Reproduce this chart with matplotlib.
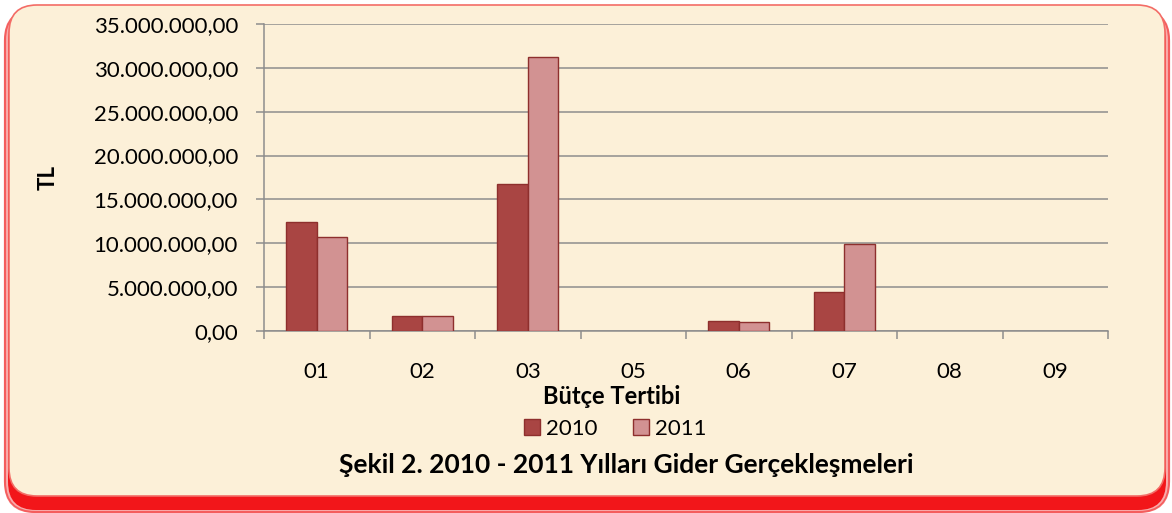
import numpy as np
import matplotlib
matplotlib.use("Agg")
import matplotlib.pyplot as plt
from matplotlib.patches import FancyBboxPatch, Patch
from matplotlib.ticker import FuncFormatter

categories = ["01", "02", "03", "05", "06", "07", "08", "09"]
gider_2010 = [12_400_000, 1_700_000, 16_800_000, 0, 1_150_000, 4_450_000, 0, 0]
gider_2011 = [10_700_000, 1_700_000, 31_250_000, 0, 1_000_000, 9_900_000, 0, 0]
series_labels = ["2010", "2011"]

C2010 = "#A94543"
C2011 = "#D29292"
EDGE = "#8E2F2D"
GRID = "#8C8C8C"
BG = "#FCF0D8"
FONT = ["Lato", "DejaVu Sans"]
PX = 0.72   # points per pixel at 100 dpi

plt.rcParams["font.family"] = FONT

W, H = 1172, 513
fig = plt.figure(figsize=(W / 100, H / 100), dpi=100)
fig.patch.set_facecolor("white")

# background frame drawn in pixel coordinates (y down)
bg = fig.add_axes([0, 0, 1, 1], zorder=-1)
bg.set_xlim(0, W)
bg.set_ylim(H, 0)
bg.axis("off")
for i, a in enumerate([0.12, 0.25, 0.5]):
    bg.add_patch(FancyBboxPatch((7 - i, 12 - i), 1160 + 2 * i, 498 + 2 * i,
                                boxstyle="round,pad=0,rounding_size=30",
                                facecolor="none", edgecolor="#F01010",
                                linewidth=(3 - i) * 1.5, alpha=a))
bg.add_patch(FancyBboxPatch((8, 12), 1158, 498,
                            boxstyle="round,pad=0,rounding_size=28",
                            facecolor="#F2161A", edgecolor="none"))
bg.add_patch(FancyBboxPatch((9, 5), 1156, 491,
                            boxstyle="round,pad=0,rounding_size=28",
                            facecolor=BG, edgecolor="#F36C66", linewidth=1.2))

ax = fig.add_axes([264 / W, 1 - 331 / H, (1108 - 264) / W, (331 - 24) / H],
                  zorder=2)
ax.set_facecolor("none")

x = np.arange(len(categories))
bw = 0.29
ax.bar(x - bw / 2, gider_2010, bw, color=C2010, edgecolor=EDGE,
       linewidth=[1.0 if v else 0 for v in gider_2010],
       label=series_labels[0], zorder=3)
ax.bar(x + bw / 2, gider_2011, bw, color=C2011, edgecolor=EDGE,
       linewidth=[1.0 if v else 0 for v in gider_2011],
       label=series_labels[1], zorder=3)

ax.set_xlim(-0.5, len(categories) - 0.5)
ax.set_ylim(0, 35_000_000)
ax.set_yticks(np.arange(0, 35_000_001, 5_000_000))


def tr_fmt(v, _):
    s = f"{v:,.2f}"
    return s.replace(",", "X").replace(".", ",").replace("X", ".")


ax.yaxis.set_major_formatter(FuncFormatter(tr_fmt))
ax.yaxis.grid(True, color=GRID, linewidth=1.5 * PX, zorder=1)
ax.set_axisbelow(True)

ax.set_xticks(x)
ax.set_xticklabels(categories)
ax.set_xticks(np.arange(-0.5, len(categories)), minor=True)
ax.tick_params(axis="x", which="major", length=0, pad=22, labelsize=16)
ax.tick_params(axis="x", which="minor", length=8 * PX, width=1.5 * PX,
               color=GRID, direction="out")
ax.tick_params(axis="y", length=8 * PX, width=1.5 * PX, color=GRID,
               labelsize=16, pad=13)

for side in ["top", "right"]:
    ax.spines[side].set_visible(False)
for side in ["left", "bottom"]:
    ax.spines[side].set_color(GRID)
    ax.spines[side].set_linewidth(1.5 * PX)

fig.text(48 / W, 1 - 178 / H, "TL", rotation=90, ha="center", va="center",
         fontsize=16, fontweight="bold")
fig.text(612 / W, 1 - 396 / H, "Bütçe Tertibi", ha="center", va="center",
         fontsize=17, fontweight="bold")

handles = [Patch(facecolor=C2010, edgecolor=EDGE, label=series_labels[0]),
           Patch(facecolor=C2011, edgecolor=EDGE, label=series_labels[1])]
fig.legend(handles=handles, loc="center", bbox_to_anchor=(615 / W, 1 - 429 / H),
           ncol=2, frameon=False, fontsize=16, handlelength=0.75,
           handleheight=0.75, handletextpad=0.25, columnspacing=1.6,
           borderpad=0)

fig.text(626 / W, 1 - 465 / H, "Şekil 2. 2010 - 2011 Yılları Gider Gerçekleşmeleri",
         ha="center", va="center", fontsize=19, fontweight="bold")

fig.savefig("out.png", dpi=100, facecolor=fig.get_facecolor())
